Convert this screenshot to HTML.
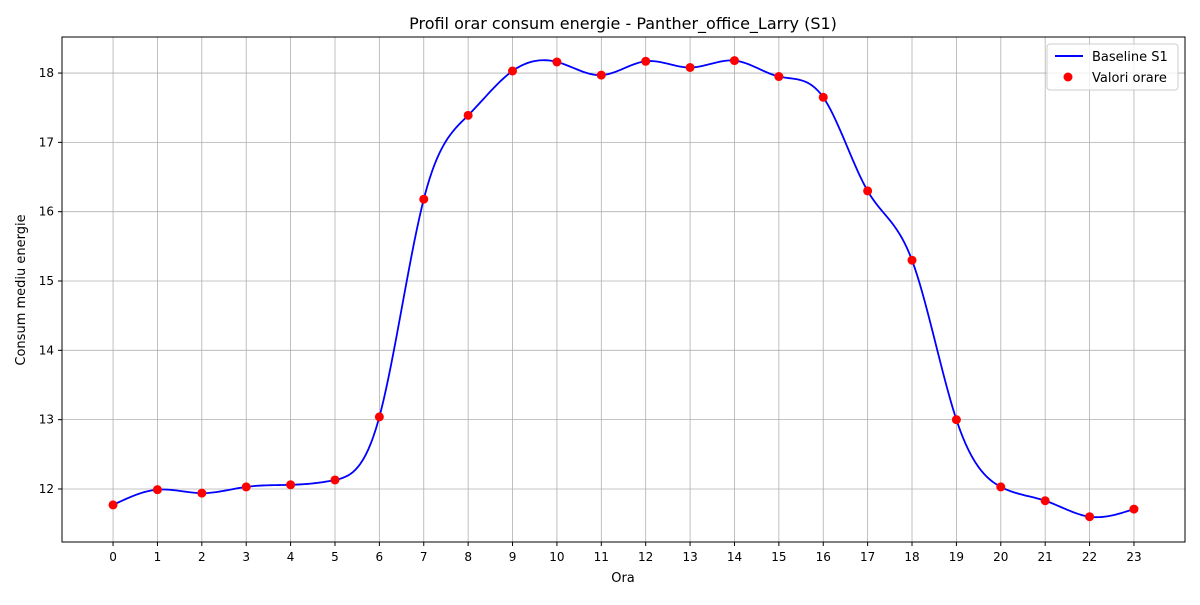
<!DOCTYPE html>
<html><head><meta charset="utf-8">
<style>
body{margin:0;background:#fff;font-family:"Liberation Sans","DejaVu Sans",sans-serif;}
svg text{font-family:"DejaVu Sans","Liberation Sans",sans-serif;}
</style></head>
<body>
<svg id="chart" width="1200" height="600" xmlns="http://www.w3.org/2000/svg">
<rect width="1200" height="600" fill="#fff"/>
<g id="grid"></g>
<g id="axes"></g>
<g id="series"></g>
<rect x="62" y="37" width="1123" height="505" fill="none" stroke="#000" stroke-width="1"/>
<text x="623" y="29" text-anchor="middle" font-size="16">Profil orar consum energie - Panther_office_Larry (S1)</text>
<text x="623" y="582" text-anchor="middle" font-size="13">Ora</text>
<text x="25" y="290" text-anchor="middle" font-size="13" transform="rotate(-90 25 290)">Consum mediu energie</text>
<g>
<rect x="1047" y="44" width="131" height="46" rx="3" fill="#fff" fill-opacity="0.8" stroke="#ccc"/>
<line x1="1055" y1="56" x2="1083" y2="56" stroke="#0000ff" stroke-width="2"/>
<text x="1092" y="61" font-size="13">Baseline S1</text>
<circle cx="1068" cy="77" r="4.5" fill="#ff0000"/>
<text x="1092" y="82" font-size="13">Valori orare</text>
</g>
</svg>
<script>
const hours=[0,1,2,3,4,5,6,7,8,9,10,11,12,13,14,15,16,17,18,19,20,21,22,23];
const consum=[11.77,11.99,11.94,12.03,12.06,12.13,13.04,16.18,17.39,18.03,18.16,17.97,18.17,18.08,18.18,17.95,17.65,16.30,15.30,13.00,12.03,11.83,11.60,11.71];
const yTicks=[12,13,14,15,16,17,18];

const NS="http://www.w3.org/2000/svg";
const L=62,R=1185,T=37,B=542;
const xMin=-1.15,xMax=24.15,yMin=11.235,yMax=18.52;
const xs=v=>L+(v-xMin)/(xMax-xMin)*(R-L);
const ys=v=>B-(v-yMin)/(yMax-yMin)*(B-T);
function mk(tag,attrs,parent){const e=document.createElementNS(NS,tag);for(const k in attrs)e.setAttribute(k,attrs[k]);parent.appendChild(e);return e;}
const grid=document.getElementById('grid'),axes=document.getElementById('axes'),series=document.getElementById('series');

hours.forEach(h=>{
  const x=xs(h);
  const gl=mk('line',{x1:x,x2:x,y1:T,y2:B,stroke:'#b0b0b0','stroke-width':0.8},grid);
  
  
  const tk=mk('line',{x1:x,x2:x,y1:B,y2:B+4,stroke:'#000'},axes);
  
  
  const t=mk('text',{x:x,y:B+19,'text-anchor':'middle','font-size':12},axes);
  t.textContent=h;
  
  
});
yTicks.forEach(v=>{
  const y=ys(v);
  const gl=mk('line',{x1:L,x2:R,y1:y,y2:y,stroke:'#b0b0b0','stroke-width':0.8},grid);
  
  
  const tk=mk('line',{x1:L-4,x2:L,y1:y,y2:y,stroke:'#000'},axes);
  
  
  const t=mk('text',{x:L-8,y:y+4,'text-anchor':'end','font-size':12},axes);
  t.textContent=v;
  
  
});

// natural cubic spline
function spline(x,y){
  const n=x.length,h=[],al=[],l=[1],mu=[0],z=[0],c=new Array(n).fill(0),b=[],d=[];
  for(let i=0;i<n-1;i++)h[i]=x[i+1]-x[i];
  for(let i=1;i<n-1;i++)al[i]=3/h[i]*(y[i+1]-y[i])-3/h[i-1]*(y[i]-y[i-1]);
  for(let i=1;i<n-1;i++){l[i]=2*(x[i+1]-x[i-1])-h[i-1]*mu[i-1];mu[i]=h[i]/l[i];z[i]=(al[i]-h[i-1]*z[i-1])/l[i];}
  l[n-1]=1;z[n-1]=0;
  for(let j=n-2;j>=0;j--){c[j]=z[j]-mu[j]*c[j+1];b[j]=(y[j+1]-y[j])/h[j]-h[j]*(c[j+1]+2*c[j])/3;d[j]=(c[j+1]-c[j])/(3*h[j]);}
  return t=>{let i=Math.min(Math.floor(t-x[0]),n-2);i=Math.max(0,i);const dx=t-x[i];return y[i]+b[i]*dx+c[i]*dx*dx+d[i]*dx*dx*dx;};
}
const f=spline(hours,consum);
let dstr='';
const x0=hours[0],x1=hours[hours.length-1];
for(let k=0;k<=400;k++){const t=x0+(x1-x0)*k/400;dstr+=(k?'L':'M')+xs(t).toFixed(2)+','+ys(f(t)).toFixed(2);}
const line=mk('path',{d:dstr,fill:'none',stroke:'#0000ff','stroke-width':1.8},series);


hours.forEach((h,i)=>{
  const c=mk('circle',{cx:xs(h),cy:ys(consum[i]),r:4.5,fill:'#ff0000'},series);
  
  
});
</script>
</body></html>
